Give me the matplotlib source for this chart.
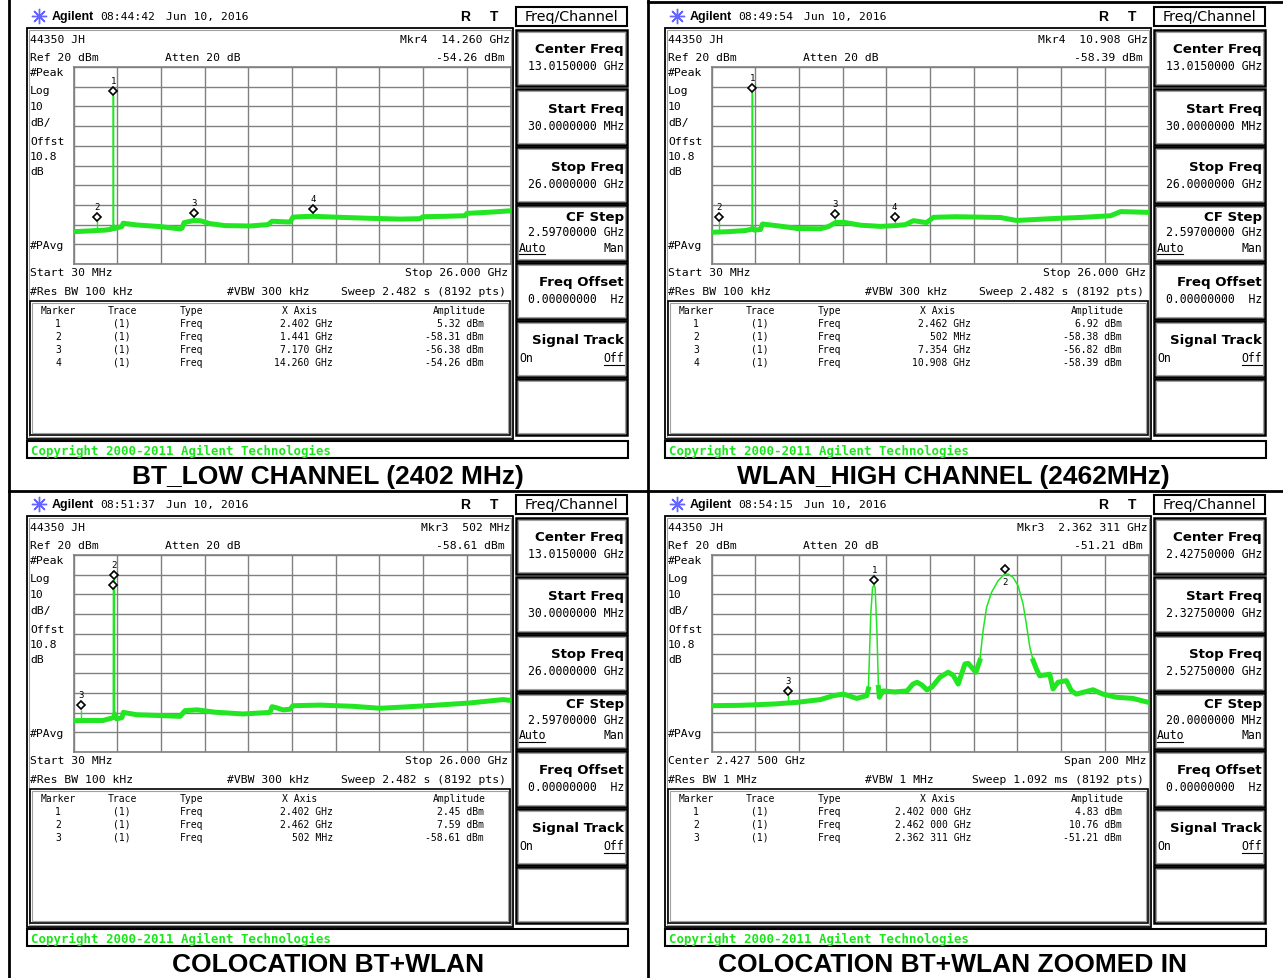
import numpy as np
import matplotlib
matplotlib.use("Agg")
import matplotlib.pyplot as plt
from matplotlib.patches import Rectangle
from matplotlib.transforms import offset_copy

W, H = 1283, 979
MONO = "DejaVu Sans Mono"
SANS = "DejaVu Sans"
ARIAL = "Liberation Sans"
GREEN = "#22e622"
GRID = "#808080"

# ---- traces (freq, dBm) ----
BT_LOW_FREQ = [0.03, 1.01, 1.40, 1.90, 2.26, 2.35, 2.395, 2.402, 2.41, 2.45, 2.90, 2.98, 3.79,
               5.17, 6.36, 6.48, 6.60, 7.13, 7.55, 8.14, 9.03, 10.52, 11.59, 11.83, 12.90, 13.07,
               13.50, 14.27, 15.87, 17.65, 19.43, 20.62, 20.80, 22.10, 23.29, 23.41, 24.78, 26.00]
BT_LOW_LEVEL = [-63.6, -63.2, -63.0, -62.8, -62.4, -61.5, -61.5, 5.32, -61.5, -62.0, -61.0, -59.3,
                -60.2, -61.0, -62.2, -61.8, -59.0, -58.0, -58.0, -59.5, -60.5, -60.7, -60.0, -58.3,
                -58.7, -56.2, -56.0, -55.8, -56.3, -56.8, -57.2, -57.0, -56.0, -55.8, -55.5, -54.3,
                -53.7, -53.0]
BT_LOW_MKR_FREQ = [2.402, 1.441, 7.170, 14.260]
BT_LOW_MKR_AMP = [5.32, -58.31, -56.38, -54.26]
BT_LOW_MKR_X = ["2.402 GHz", "1.441 GHz", "7.170 GHz", "14.260 GHz"]

WLAN_FREQ = [0.03, 1.00, 2.05, 2.35, 2.455, 2.462, 2.47, 2.59, 2.94, 3.06, 4.13, 5.14, 6.51, 6.98,
             7.40, 7.87, 8.88, 10.07, 10.96, 11.56, 12.03, 12.81, 13.22, 14.53, 17.20, 18.16,
             20.18, 22.14, 23.75, 24.34, 26.00]
WLAN_LEVEL = [-63.9, -63.6, -63.0, -62.5, -62.0, 6.92, -62.0, -62.8, -62.5, -59.7, -60.8, -62.0,
              -62.1, -61.0, -59.0, -58.8, -60.3, -60.9, -60.5, -60.0, -58.0, -59.0, -56.3, -56.0,
              -56.4, -57.9, -57.0, -56.3, -55.5, -53.4, -53.8]
WLAN_MKR_FREQ = [2.462, 0.502, 7.354, 10.908]
WLAN_MKR_AMP = [6.92, -58.38, -56.82, -58.39]
WLAN_MKR_X = ["2.462 GHz", "502 MHz", "7.354 GHz", "10.908 GHz"]

COLOC_FREQ = [0.03, 1.00, 1.78, 2.30, 2.395, 2.402, 2.462, 2.47, 2.60, 2.91, 2.99, 3.79, 5.17,
              6.36, 6.66, 7.37, 8.44, 10.10, 11.71, 11.83, 12.07, 12.48, 12.90, 13.07, 14.67,
              16.64, 18.24, 19.61, 21.63, 23.59, 25.55, 26.00]
COLOC_LEVEL = [-64.1, -64.0, -64.0, -62.8, -62.5, 2.45, 7.59, -61.0, -63.2, -62.5, -59.9, -61.1,
               -61.5, -61.9, -59.0, -58.6, -59.8, -60.7, -59.9, -57.0, -57.5, -58.6, -58.3, -56.5,
               -56.2, -56.8, -57.8, -57.2, -56.2, -55.1, -53.4, -53.8]
COLOC_MKR_FREQ = [2.402, 2.462, 0.502]
COLOC_MKR_AMP = [2.45, 7.59, -58.61]
COLOC_MKR_X = ["2.402 GHz", "2.462 GHz", "502 MHz"]

ZOOM_FREQ = [2327.5, 2340.7, 2348.4, 2356.7, 2361.3, 2366.6, 2377.3, 2383.3, 2387.9, 2394.0,
             2398.6, 2399.3, 2400.4, 2401.2, 2402.0, 2402.4, 2403.2, 2403.9, 2404.3, 2406.0,
             2411.5, 2417.0, 2419.7, 2421.6, 2423.8, 2426.1, 2428.4, 2432.0, 2435.8, 2438.1,
             2440.4, 2443.5, 2445.0, 2446.5, 2448.5, 2450.3, 2451.8, 2453.4, 2455.7, 2458.7,
             2461.7, 2463.2, 2465.5, 2467.8, 2470.1, 2471.6, 2473.2, 2474.7, 2476.2, 2477.7,
             2480.8, 2482.3, 2483.8, 2486.1, 2489.9, 2492.2, 2494.5, 2502.1, 2506.6, 2512.7,
             2520.3, 2527.5]
ZOOM_LEVEL = [-56.5, -56.3, -56.0, -55.6, -55.2, -54.8, -53.4, -51.4, -50.6, -52.8, -51.4, -48.0,
              -10.0, 3.5, 4.83, 3.0, -18.4, -47.2, -52.2, -49.0, -49.5, -49.0, -45.5, -44.6,
              -46.0, -48.5, -47.0, -42.1, -39.5, -41.0, -45.5, -35.3, -35.0, -37.0, -39.5, -33.6,
              -18.4, -6.5, 1.1, 7.0, 10.4, 10.3, 8.7, 4.4, -4.9, -15.0, -26.9, -33.6, -37.9,
              -41.3, -40.8, -40.5, -48.0, -44.6, -43.8, -48.9, -50.6, -48.4, -50.6, -52.2, -52.8,
              -54.8]
ZOOM_MKR_FREQ = [2402.0, 2462.0, 2362.311]
ZOOM_MKR_AMP = [4.83, 10.76, -51.21]
ZOOM_MKR_X = ["2.402 000 GHz", "2.462 000 GHz", "2.362 311 GHz"]

TITLES = ["BT_LOW CHANNEL (2402 MHz)", "WLAN_HIGH CHANNEL (2462MHz)",
          "COLOCATION BT+WLAN", "COLOCATION BT+WLAN ZOOMED IN"]
TIMES = ["08:44:42", "08:49:54", "08:51:37", "08:54:15"]

FULL = dict(f0=0.03, f1=26.0, center="13.0150000 GHz", start="30.0000000 MHz",
            stop="26.0000000 GHz", step="2.59700000 GHz", left="Start 30 MHz",
            right="Stop 26.000 GHz", rbw="#Res BW 100 kHz", vbw="#VBW 300 kHz",
            sweep="Sweep 2.482 s (8192 pts)", floor=-44)
ZOOMED = dict(f0=2327.5, f1=2527.5, center="2.42750000 GHz", start="2.32750000 GHz",
              stop="2.52750000 GHz", step="20.0000000 MHz", left="Center 2.427 500 GHz",
              right="Span 200 MHz", rbw="#Res BW 1 MHz", vbw="#VBW 1 MHz",
              sweep="Sweep 1.092 ms (8192 pts)", floor=-32)

PANELS = [
    dict(FULL, ox=0, oy=0, cx=328, freq=BT_LOW_FREQ, level=BT_LOW_LEVEL,
         mf=BT_LOW_MKR_FREQ, ma=BT_LOW_MKR_AMP, mx=BT_LOW_MKR_X, active=3,
         mkr="Mkr4  14.260 GHz", below=[]),
    dict(FULL, ox=638, oy=0, cx=953, freq=WLAN_FREQ, level=WLAN_LEVEL,
         mf=WLAN_MKR_FREQ, ma=WLAN_MKR_AMP, mx=WLAN_MKR_X, active=3,
         mkr="Mkr4  10.908 GHz", below=[]),
    dict(FULL, ox=0, oy=488, cx=328, freq=COLOC_FREQ, level=COLOC_LEVEL,
         mf=COLOC_MKR_FREQ, ma=COLOC_MKR_AMP, mx=COLOC_MKR_X, active=2,
         mkr="Mkr3  502 MHz", below=[]),
    dict(ZOOMED, ox=638, oy=488, cx=953, freq=ZOOM_FREQ, level=ZOOM_LEVEL,
         mf=ZOOM_MKR_FREQ, ma=ZOOM_MKR_AMP, mx=ZOOM_MKR_X, active=2,
         mkr="Mkr3  2.362 311 GHz", below=[1]),
]

fig = plt.figure(figsize=(W / 100, H / 100), dpi=100)
bg = fig.add_axes([0, 0, 1, 1])
bg.set_xlim(0, W)
bg.set_ylim(H, 0)
bg.axis("off")


def txt(x, y, s, size=8.2, ha="left", **kw):
    kw.setdefault("family", MONO)
    bg.text(x, y, s, fontsize=size, ha=ha, va="center", **kw)


def box(x, y, w, h, lw=1.5, inner=True):
    bg.add_patch(Rectangle((x, y), w, h, fill=False, ec="black", lw=lw))
    if inner:
        bg.add_patch(Rectangle((x + 2, y + 2), w - 4, h - 4, fill=False, ec="#a0a0a0", lw=0.8))


def draw_panel(i, p):
    ox, oy = p["ox"], p["oy"]

    # title bar
    bg.plot(ox + 39, oy + 17, marker=(8, 2, 0), ms=11, color="#6464ff", mew=1.0)
    txt(ox + 52, oy + 17, "Agilent", 9, family=ARIAL, fontweight="bold")
    txt(ox + 100, oy + 17, TIMES[i])
    txt(ox + 166, oy + 17, "Jun 10, 2016")
    txt(ox + 465, oy + 17, "R", 10, family=ARIAL, fontweight="bold", ha="center")
    txt(ox + 494, oy + 17, "T", 10, family=ARIAL, fontweight="bold", ha="center")
    box(ox + 516, oy + 8, 111, 19, lw=1.5, inner=False)
    txt(ox + 571.5, oy + 17.5, "Freq/Channel", 10.3, family=SANS, ha="center")

    # display frames
    box(ox + 27, oy + 29, 486, 411, lw=1.3)
    box(ox + 30, oy + 302, 480, 134, lw=1.2)
    box(ox + 27, oy + 442, 601, 17, lw=1.5, inner=False)
    txt(ox + 31, oy + 451, "Copyright 2000-2011 Agilent Technologies", 8.9,
        color="#19e619", fontweight="bold")

    # header and left annotations
    txt(ox + 30, oy + 40, "44350 JH")
    txt(ox + 30, oy + 58, "Ref 20 dBm")
    txt(ox + 165, oy + 58, "Atten 20 dB")
    txt(ox + 510, oy + 40, p["mkr"], ha="right")
    txt(ox + 505, oy + 58, f"{p['ma'][p['active']]:.2f} dBm", ha="right")
    for s, y in [("#Peak", 73), ("Log", 91), ("10", 107), ("dB/", 123), ("Offst", 142),
                 ("10.8", 157), ("dB", 172), ("#PAvg", 246)]:
        txt(ox + 30, oy + y, s)
    txt(ox + 30, oy + 273, p["left"])
    txt(ox + 508, oy + 273, p["right"], ha="right")
    txt(ox + 30, oy + 292, p["rbw"])
    txt(ox + 227, oy + 292, p["vbw"])
    txt(ox + 506, oy + 292, p["sweep"], ha="right")

    # marker table
    txt(ox + 58, oy + 311, "Marker", 7, ha="center")
    txt(ox + 122, oy + 311, "Trace", 7, ha="center")
    txt(ox + 180, oy + 311, "Type", 7)
    txt(ox + 300, oy + 311, "X Axis", 7, ha="center")
    txt(ox + 486, oy + 311, "Amplitude", 7, ha="right")
    for k, (xs, amp) in enumerate(zip(p["mx"], p["ma"])):
        y = oy + 324 + 13 * k
        txt(ox + 58, y, str(k + 1), 7, ha="center")
        txt(ox + 122, y, "(1)", 7, ha="center")
        txt(ox + 180, y, "Freq", 7)
        txt(ox + 333, y, xs, 7, ha="right")
        txt(ox + 484, y, f"{amp:.2f} dBm", 7, ha="right")

    # softkeys
    keys = [(31, "Center Freq", p["center"]), (90, "Start Freq", p["start"]),
            (148, "Stop Freq", p["stop"]), (206, "CF Step", p["step"]),
            (264, "Freq Offset", "0.00000000  Hz"), (322, "Signal Track", None),
            (380, None, None)]
    for top, label, value in keys:
        box(ox + 516, oy + top, 111, 56, lw=1.8)
        if label is None:
            continue
        if label == "CF Step":
            txt(ox + 624, oy + top + 11, label, 9.6, family=SANS, fontweight="bold", ha="right")
            txt(ox + 624, oy + top + 27, value, 8.3, ha="right")
            txt(ox + 519, oy + top + 42, "Auto", 8.3)
            bg.plot([ox + 519, ox + 545], [oy + top + 49, oy + top + 49], color="black", lw=0.8)
            txt(ox + 624, oy + top + 42, "Man", 8.3, ha="right")
        elif label == "Signal Track":
            txt(ox + 624, oy + top + 19, label, 9.6, family=SANS, fontweight="bold", ha="right")
            txt(ox + 519, oy + top + 37, "On", 8.3)
            txt(ox + 624, oy + top + 37, "Off", 8.3, ha="right")
            bg.plot([ox + 604, ox + 624], [oy + top + 44, oy + top + 44], color="black", lw=0.8)
        else:
            txt(ox + 624, oy + top + 19, label, 9.6, family=SANS, fontweight="bold", ha="right")
            txt(ox + 624, oy + top + 36, value, 8.3, ha="right")

    # section caption
    bg.text(p["cx"], oy + 477, TITLES[i], fontsize=19, family=ARIAL, fontweight="bold",
            ha="center", va="center")

    # graticule with trace
    gx, gy, gw, gh = ox + 73.5, oy + 68, 437, 197
    ax = fig.add_axes([gx / W, 1 - (gy + gh) / H, gw / W, gh / H])
    ax.set_xlim(p["f0"], p["f1"])
    ax.set_ylim(-80, 20)
    ax.set_xticks(np.linspace(p["f0"], p["f1"], 11))
    ax.set_yticks(np.arange(-80, 21, 10))
    ax.grid(True, color=GRID, lw=1.0)
    ax.tick_params(length=0, labelbottom=False, labelleft=False)
    for s in ax.spines.values():
        s.set_color(GRID)
        s.set_linewidth(1.2)
    ax.set_facecolor("white")

    freq = np.array(p["freq"])
    lvl = np.array(p["level"])
    ax.plot(freq, lvl, color=GREEN, lw=1.1, zorder=3)
    ax.plot(freq, np.where(lvl < p["floor"], lvl, np.nan), color=GREEN, lw=3.6, zorder=3)

    mf = np.array(p["mf"])
    ma = np.array(p["ma"])
    base = np.interp(mf, freq, lvl)
    low = ma < -40
    ax.vlines(mf[low], base[low], ma[low], color=GREEN, lw=1.0, zorder=3)

    up = offset_copy(ax.transData, fig=fig, x=0, y=4.5, units="dots")
    for k in range(len(mf)):
        dy = -8 if k in p["below"] else 15
        lab = offset_copy(ax.transData, fig=fig, x=0, y=dy, units="dots")
        ax.text(mf[k], ma[k], str(k + 1), transform=lab, fontsize=6.5, family=MONO,
                ha="center", va="center", zorder=4 + k, clip_on=False)
        ax.plot(mf[k], ma[k], "D", ms=3.9, mfc="white", mec="black", mew=1.2,
                transform=up, zorder=4 + k, clip_on=False)


for i, p in enumerate(PANELS):
    draw_panel(i, p)

# outer sheet lines
bg.plot([9, 9], [0, H], color="black", lw=2)
bg.plot([648, 648], [0, H], color="black", lw=2)
bg.plot([9, W], [492, 492], color="black", lw=2)
bg.plot([648, W], [3, 3], color="black", lw=2)

fig.savefig("out.png", dpi=100)
